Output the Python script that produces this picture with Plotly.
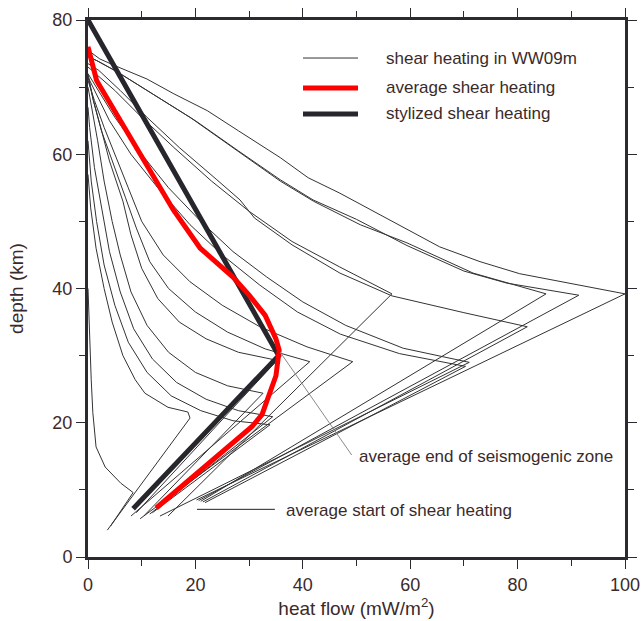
import plotly.graph_objects as go

# ---------------- data (heat flow mW/m^2, depth km) ----------------
a_heat = [20.2, 100, 80.4, 73, 65.5, 56.2, 46.9, 41, 35.8, 28, 22.2, 16, 11, 5, 2.2, 0]
a_depth = [8.5, 39.2, 42.2, 44, 46.2, 50.2, 54.2, 56.5, 59.5, 63.5, 66.5, 69, 71.2, 73.2, 74.2, 75.5]
b_heat = [20.6, 91.4, 78, 70, 59.4, 50, 41.9, 35.8, 28, 20, 12, 6, 2, 0]
b_depth = [8.4, 39, 40.8, 42.6, 46.4, 50.3, 53.2, 56.2, 60.5, 65, 69, 72, 73.8, 74.6]
c_heat = [21, 85.3, 71.7, 59.4, 50.7, 42, 35.8, 27, 19, 11, 5, 1.5, 0]
c_depth = [8.3, 39.2, 42.3, 46.8, 49.5, 53, 56, 61, 65.5, 69.5, 72.5, 74, 74.5]
d_heat = [21.4, 81.8, 70, 56.6, 46.9, 38, 31, 28.3, 24, 17, 11, 6, 2, 0]
d_depth = [8.2, 34.3, 36.4, 38.9, 42.3, 46.5, 50.5, 53.2, 56.2, 61, 65.5, 69.5, 72.5, 73.5]
g_heat = [14.9, 56.6, 46.9, 38, 30, 23, 16, 10, 5, 1.5, 0]
g_depth = [6.1, 39.2, 43.2, 47, 51.5, 56, 61, 65.5, 69.5, 72, 73]
e_heat = [13.4, 71, 58.7, 48, 40, 33.3, 27, 21, 15, 10, 5, 2, 0]
e_depth = [6.1, 29, 31.1, 34.5, 38, 41.7, 45.5, 50, 55, 60, 65.5, 69.5, 72]
e2_heat = [21.8, 70.3, 58, 47, 39, 32, 25, 19, 13, 8, 4, 1.5, 0]
e2_depth = [8.1, 28.4, 30.3, 33.2, 36.5, 40.5, 45, 49.5, 55, 60, 65, 69, 71.5]
h_heat = [9.7, 49.3, 40.8, 32, 25, 19, 14, 10, 7.5, 5, 3, 1.2, 0]
h_depth = [5.7, 29.1, 31.3, 34.3, 37.5, 41, 45, 50, 55, 60, 64, 68, 71]
i_heat = [8, 41.3, 33, 26, 20, 15, 11.5, 9, 7, 4.5, 2.5, 1, 0]
i_depth = [6.1, 29.1, 31, 33.5, 36.5, 40, 44, 49, 53.5, 59, 63.5, 68, 71.5]
m_heat = [9, 35.2, 28, 22, 17, 13, 10, 8, 6.5, 4, 2.5, 1, 0]
m_depth = [6.6, 29.3, 30.5, 32.5, 35, 38.5, 43, 48, 53, 59, 63.6, 68, 72]
k1_heat = [10.5, 32.6, 26, 20, 15, 11, 8, 6, 4.5, 3, 1.8, 0.7, 0]
k1_depth = [6.2, 24.4, 25.5, 27.5, 30.5, 34.5, 39.5, 45, 50, 56, 62, 67, 70]
k2_heat = [11.5, 34.4, 28, 22, 16.5, 12, 8.5, 6, 4, 2.5, 1.2, 0.3, 0]
k2_depth = [6.4, 20.9, 21.8, 23.5, 26, 29.5, 34, 39.5, 45.5, 52, 58, 64, 67]
k3_heat = [12, 33.9, 27, 21, 15.5, 11, 7.5, 5, 3, 1.6, 0.6, 0]
k3_depth = [6.6, 19.7, 20.3, 21.8, 24, 27.5, 32, 37.5, 43.5, 50, 56, 62]
s_heat = [3.6, 19, 18.6, 14.9, 10.6, 8.8, 6.5, 4.5, 3, 1.5, 0.5, 0]
s_depth = [4, 20.7, 21.6, 22.3, 24.4, 26.4, 30, 35, 40, 46, 52, 57]
t_heat = [4.2, 8.4, 6.1, 3.2, 1.5, 0.9, 0.6, 0.3, 0]
t_depth = [4.6, 9.6, 11, 13.4, 16.4, 21.5, 26.4, 32, 40]

avg_heat = [12.7, 30.5, 32.4, 33.9, 35, 35.6, 35, 33, 30, 27, 20.9, 15.9, 7.2, 1.6, 0]
avg_depth = [7.3, 19.4, 21.2, 24.4, 27, 30.8, 32.5, 36, 39, 41.7, 46, 51.7, 63.5, 71, 76]

sty_heat = [8.4, 35.5, 0]
sty_depth = [7.2, 30, 80]

x_ticks = [0, 20, 40, 60, 80, 100]
y_ticks = [0, 20, 40, 60, 80]

thin_curves = [
    (a_heat, a_depth), (b_heat, b_depth), (c_heat, c_depth), (d_heat, d_depth),
    (g_heat, g_depth), (e_heat, e_depth), (e2_heat, e2_depth), (h_heat, h_depth),
    (i_heat, i_depth), (m_heat, m_depth), (k1_heat, k1_depth), (k2_heat, k2_depth),
    (k3_heat, k3_depth), (s_heat, s_depth), (t_heat, t_depth),
]

TXT = '#3b2a2a'
FRAME = '#2a2a30'
FONT = 'Liberation Sans, Arial, Helvetica, sans-serif'

fig = go.Figure()
for hx, dy in thin_curves:
    fig.add_trace(go.Scatter(x=hx, y=dy, mode='lines',
                             line=dict(color='#333333', width=1),
                             showlegend=False, hoverinfo='skip'))
fig.add_trace(go.Scatter(x=sty_heat, y=sty_depth, mode='lines',
                         line=dict(color='#26262c', width=5),
                         showlegend=False, hoverinfo='skip'))
fig.add_trace(go.Scatter(x=avg_heat, y=avg_depth, mode='lines',
                         line=dict(color='#ff0000', width=5),
                         showlegend=False, hoverinfo='skip'))

axis_common = dict(
    showgrid=False, zeroline=False, showline=True, linewidth=3, linecolor=FRAME,
    mirror='allticks', ticks='outside', ticklen=9, tickwidth=1, tickcolor=FRAME,
    tickfont=dict(size=18, color=TXT, family=FONT), automargin=False,
    minor=dict(dtick=10, ticks='outside', ticklen=6, tickwidth=1, tickcolor=FRAME),
)

fig.update_xaxes(range=[0, 100], tickvals=x_ticks,
                 title=dict(text='heat flow (mW/m<sup>2</sup>)', font=dict(size=19, color=TXT, family=FONT), standoff=4),
                 **axis_common)
fig.update_yaxes(range=[0, 80], tickvals=y_ticks,
                 title=dict(text='depth (km)', font=dict(size=19, color=TXT, family=FONT), standoff=24),
                 **axis_common)

shapes = []
annotations = []
# legend (paper coords)
leg_rows = [
    (0.9292, '#333333', 1, 'shear heating in WW09m'),
    (0.8734, '#ff0000', 5, 'average shear heating'),
    (0.8250, '#26262c', 5, 'stylized shear heating'),
]
for yy, col, w, label in leg_rows:
    shapes.append(dict(type='line', xref='paper', yref='paper', x0=0.4004, x1=0.5028, y0=yy, y1=yy,
                       line=dict(color=col, width=w)))
    annotations.append(dict(xref='paper', yref='paper', x=0.5512, y=yy, text=label, showarrow=False,
                            xanchor='left', yanchor='middle', font=dict(size=17, color=TXT, family=FONT)))

# leader lines + labels
shapes.append(dict(type='line', xref='x', yref='y', x0=35.8, y0=30.5, x1=49.1, y1=15.2,
                   line=dict(color='#8a8a8a', width=1)))
annotations.append(dict(xref='x', yref='y', x=50.1, y=14.9, text='average end of seismogenic zone',
                        showarrow=False, xanchor='left', yanchor='middle',
                        font=dict(size=17, color=TXT, family=FONT)))
shapes.append(dict(type='line', xref='x', yref='y', x0=20.3, y0=7.1, x1=34.8, y1=7.1,
                   line=dict(color='#222222', width=1)))
annotations.append(dict(xref='x', yref='y', x=36.5, y=6.9, text='average start of shear heating',
                        showarrow=False, xanchor='left', yanchor='middle',
                        font=dict(size=17, color=TXT, family=FONT)))

fig.update_layout(
    width=642, height=621,
    margin=dict(l=88, r=17, t=20, b=64),
    plot_bgcolor='white', paper_bgcolor='white',
    shapes=shapes, annotations=annotations,
    showlegend=False,
    font=dict(family=FONT, color=TXT),
)

fig.write_html('out.html')
